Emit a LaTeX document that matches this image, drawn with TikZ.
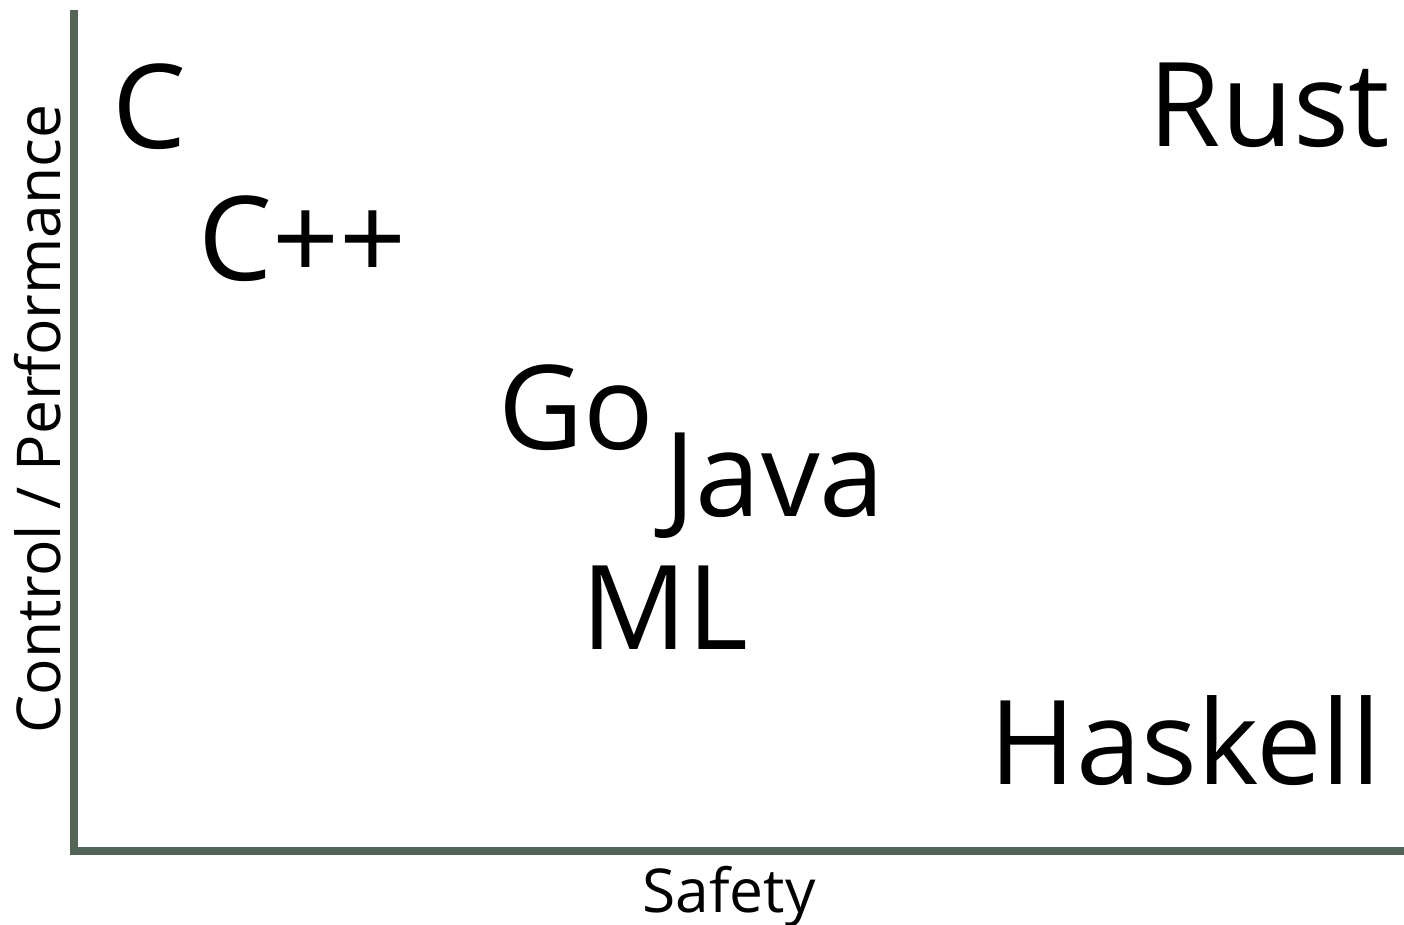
\documentclass[tikz,border=0pt]{standalone}
\usepackage{fontspec}
\setmainfont{Open Sans}
\definecolor{axisgreen}{RGB}{84,100,86}
\begin{document}
\begin{tikzpicture}[
  x=0.01cm, y=-0.01cm,
  lang/.style={anchor=base west, inner sep=0pt, font=\fontsize{33.3}{40}\selectfont},
  axlabel/.style={anchor=base, inner sep=0pt, font=\fontsize{17.2}{20}\selectfont}
]
  \useasboundingbox (0,0) rectangle (1404,925);

  % axes
  \coordinate (top)    at (74,10);
  \coordinate (origin) at (74,851);
  \coordinate (right)  at (1404,851);
  \draw[axisgreen, line width=0.08cm] (top) -- (origin) -- (right);
  \node[axlabel] (safety) at (729,912) {Safety};
  \node[axlabel, rotate=90] (control) at (60,419) {Control / Performance};

  % languages
  \node[lang] (C)       at (112,149) {C};
  \node[lang] (Cpp)     at (198,281) {C++};
  \node[lang] (Go)      at (498,449) {Go};
  \node[lang] (Java)    at (664,516) {Java};
  \node[lang] (ML)      at (581,649) {ML};
  \node[lang] (Haskell) at (989,784) {Haskell};
  \node[lang] (Rust)    at (1148,147) {Rust};
\end{tikzpicture}
\end{document}
